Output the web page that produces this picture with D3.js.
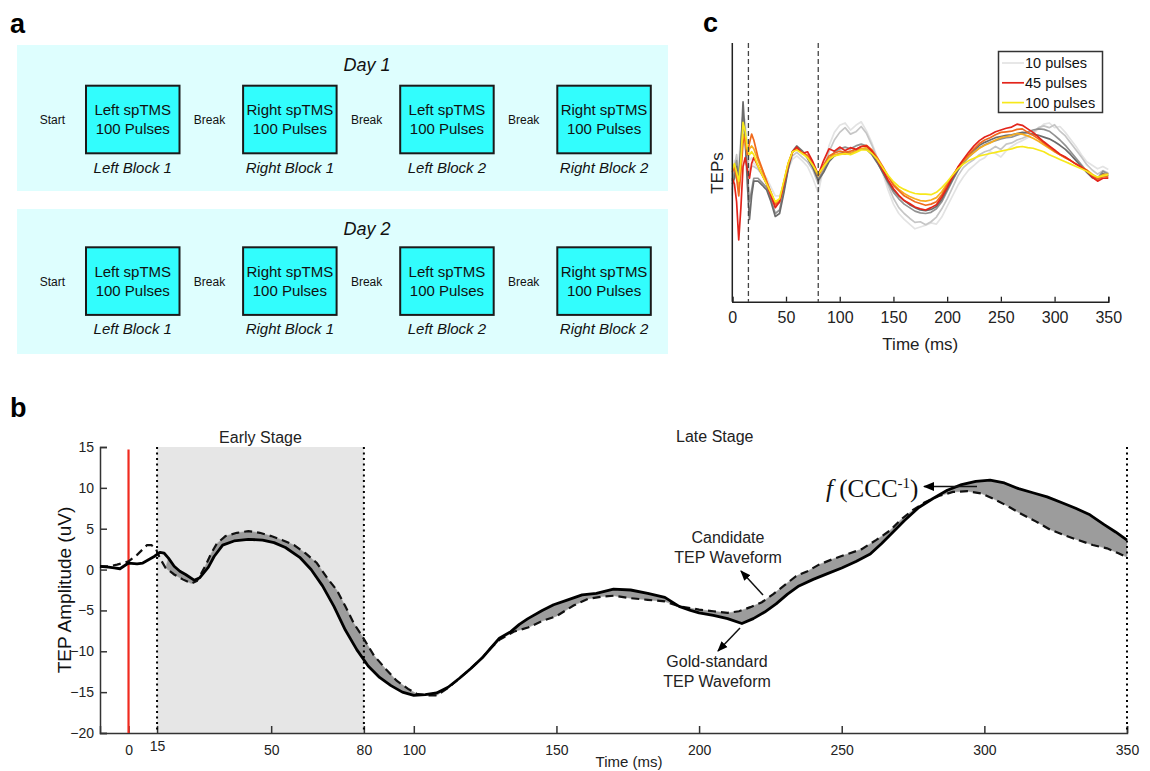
<!DOCTYPE html>
<html>
<head>
<meta charset="utf-8">
<script src="https://cdn.jsdelivr.net/npm/d3@7"></script>
<style>
  html, body { margin: 0; padding: 0; background: #fff; }
  svg { display: block; }
  text { font-family: "Liberation Sans", Arial, sans-serif; }
</style>
</head>
<body>
<svg id="fig" width="1150" height="771"></svg>
<script>
// ---------------- Panel a data ----------------
const dayTitles = ["Day 1", "Day 2"];
const startBreakLabels = ["Start", "Break", "Break", "Break"];
const boxLine1 = ["Left spTMS", "Right spTMS", "Left spTMS", "Right spTMS"];
const boxLine2 = ["100 Pulses", "100 Pulses", "100 Pulses", "100 Pulses"];
const blockLabels = ["Left Block 1", "Right Block 1", "Left Block 2", "Right Block 2"];

// ---------------- Panel b data ----------------
const goldT = [-10,-7,-5,-3,0,3,5,7,9,11,12.5,14,16,18,20,23,25,28,30,33,37,42,47,51,55,60,64,68,72,76,80,84,88,92,96,100,104,108,112,116,120,124,127,130,134,137,140,145,149,154,159,164,170,176,182,188,193,197,200,205,210,215,219,223,227,231,235,240,245,250,255,260,264,268,272,277,282,287,292,297,302,307,312,317,322,327,332,337,342,346,350];
const goldV = [0.4,0.3,0.2,0.1,0.8,0.7,0.8,1.2,1.6,2.1,2.0,1.4,0.4,-0.2,-0.6,-1.3,-1.0,0.3,1.6,3.0,3.5,3.7,3.6,3.3,2.7,1.5,0.0,-2.0,-4.5,-7.4,-9.8,-11.8,-13.2,-14.2,-15.0,-15.4,-15.3,-15.1,-14.4,-13.3,-12.1,-10.8,-9.6,-8.4,-7.6,-6.7,-6.0,-5.0,-4.3,-3.7,-3.1,-2.9,-2.4,-2.5,-2.9,-3.4,-4.5,-5.0,-5.3,-5.6,-6.0,-6.6,-6.0,-5.2,-4.2,-3.0,-2.0,-1.2,-0.5,0.2,1.0,1.9,3.2,4.6,6.0,7.6,8.7,9.7,10.4,10.8,10.95,10.6,9.9,9.4,8.9,8.2,7.5,6.7,5.5,4.6,3.6];
const candT = [-10,-7,-4,0,3,6.5,8,9.5,11,13,16,19,22,24,27,29,31,34,38,42,46,50,54,58,62,66,70,73,76,79,82,86,90,94,98,101,105,108,112,116,120,124,127,130,135,140,145,150,156,161,166,170,176,182,188,193,200,205,210,214,218,222,226,230,234,238,242,247,252,257,262,267,271,275,279,284,289,294,299,303,308,313,318,323,328,333,338,343,347,350];
const candV = [0.4,0.4,0.6,1.0,1.8,3.0,3.0,2.6,1.4,0.2,-0.6,-1.2,-1.7,-1.4,0.5,2.0,3.2,4.1,4.5,4.7,4.5,4.1,3.6,3.0,2.0,0.8,-1.2,-2.5,-4.5,-6.6,-8.2,-10.5,-12.1,-13.6,-14.6,-15.2,-15.4,-15.4,-14.5,-13.3,-12.1,-10.8,-9.6,-8.6,-7.6,-7.1,-6.3,-5.7,-4.4,-3.6,-3.3,-3.2,-3.5,-3.7,-3.9,-4.5,-4.9,-5.1,-5.3,-5.1,-4.6,-4.0,-3.0,-1.9,-0.8,-0.2,0.6,1.3,1.9,2.5,3.6,4.8,6.2,7.3,8.2,9.0,9.5,9.6,9.3,8.7,7.8,6.8,5.9,4.9,4.2,3.6,3.0,2.6,2.0,1.5];
// tick positions as drawn in the figure (the 15 / 80 markers sit at these axis positions)
const bXTickPos = [0,10,50,82.5,100,150,200,250,300,350];
const bXTickLabels = ["0","15","50","80","100","150","200","250","300","350"];
const bYTicks = [-20,-15,-10,-5,0,5,10,15];
const stageLinePos = [10, 82.5, 350];
const pulseOnset = 0;

// ---------------- Panel c data ----------------
const tepT = [0,2,4,6,8,10,12,14,16,18,20,24,28,32,36,40,44,48,52,56,60,65,70,75,80,85,90,95,100,105,110,115,120,125,130,135,140,145,150,155,160,165,170,175,180,185,190,195,200,205,210,215,220,225,230,235,240,245,250,255,260,265,270,275,280,285,290,295,300,305,310,315,320,325,330,335,340,345,350];
const pulses10 = [-4,2,-1,2,6,7,9,5,2,2.5,1.5,0.8,0,-1,-2.5,-4,-4,-2,0.5,2.2,2.8,2.0,1.0,-1.0,-3.5,0.8,4.5,6.8,8.0,8.4,7.2,8.0,8.6,7.0,5.0,2.5,-0.2,-3.0,-5.4,-7.0,-8.0,-8.8,-9.6,-9.3,-9.0,-8.6,-8.8,-7.6,-5.8,-4.0,-2.2,-0.8,0.4,1.2,2.0,2.5,3.5,3.2,2.6,3.7,4.4,5.0,5.4,5.9,6.5,7.4,8.2,8.4,7.6,7.8,6.8,5.6,4.4,3.0,1.8,1.2,0.6,1.0,0.5];
const pulses20 = [-3,1,3,0,3,9,7,3,0,1,1,0.5,-0.5,-1.8,-3.5,-5.5,-5.2,-2.5,0.6,2.8,3.4,2.6,1.8,0.4,-2.0,0.5,3.5,5.5,6.8,7.6,6.5,6.9,7.8,6.6,4.6,2.3,0.2,-2.2,-4.4,-6.0,-7.0,-7.8,-8.5,-8.4,-8.9,-8.4,-7.6,-6.2,-4.5,-2.6,-0.6,0.8,1.6,2.2,3.0,3.5,3.8,4.4,3.9,4.8,5.0,5.5,5.8,6.2,6.8,7.6,7.9,7.6,8.1,7.0,6.2,5.0,3.8,2.6,1.3,0.4,-0.3,0.3,-0.1];
const pulses35 = [-1.5,0,2,-1,5,10,5,0,-5,-3,-1,-1,-1.8,-2.6,-4.6,-7,-6.4,-3,0.8,3.6,4.5,3.7,2.6,1.0,-1.1,0.3,2.2,3.4,4.0,4.3,4.0,4.5,4.8,4.5,3.4,1.8,0.0,-1.8,-3.4,-4.5,-5.4,-6.0,-6.6,-6.9,-7.0,-6.8,-6.2,-5.0,-3.2,-1.4,0.3,1.6,2.6,3.4,4.2,4.7,5.1,5.4,5.7,5.9,6.0,6.3,6.6,6.9,7.2,7.4,7.3,7.0,6.3,5.5,4.6,3.5,2.4,1.3,0.2,-0.8,-1.0,0.2,-0.3];
const pulses40 = [-2,-1,1,-2,4,12,6,-2,-8,-4,-1.5,-1.5,-2.2,-3,-5,-7.5,-7,-3.5,0.5,3.5,4.4,3.6,2.4,0.8,-1.4,0.0,1.8,2.8,3.2,3.4,3.3,3.6,4.0,3.9,3.0,1.6,0.0,-1.6,-3.0,-4.0,-4.8,-5.5,-6.0,-6.4,-6.5,-6.3,-5.8,-4.6,-2.9,-1.2,0.4,1.7,2.8,3.8,4.6,5.1,5.5,5.9,6.1,6.3,6.4,6.6,6.8,6.7,6.5,6.3,6.0,5.7,5.2,4.6,3.9,3.0,2.0,1.0,0.0,-0.9,-1.2,-0.2,-0.6];
const pulses45 = [-1,-2,-5,-11.5,-6,1,2.5,0.5,-1,1.5,2.5,1,-0.5,-2,-4,-6,-5,-2,1.2,3.5,4.3,3.2,3.5,1.8,-0.4,2.0,4.0,3.6,4.3,3.7,4.2,3.9,4.4,4.5,3.6,2.1,0.4,-1.3,-2.8,-3.9,-4.8,-5.3,-5.9,-6.2,-6.4,-6.0,-5.5,-4.2,-2.6,-0.8,0.9,2.2,3.4,4.5,5.4,6.0,6.4,6.9,7.2,7.5,7.7,8.2,8.0,7.4,6.8,6.0,5.2,4.5,3.8,3.1,2.6,2.0,1.4,0.9,0.3,-0.8,-1.5,-1.0,-1.0];
const pulses60 = [0,1,-1,-4,0,5,6,3,5,6.5,5.5,2.5,0.5,-1.5,-3.5,-5.5,-5,-1.8,1.4,3.4,4.1,3.4,2.9,1.5,-0.4,1.2,2.8,3.3,3.6,3.4,3.6,3.9,4.4,4.6,3.8,2.5,1.0,-0.6,-2.2,-3.1,-4.0,-4.5,-5.0,-5.3,-5.6,-5.4,-5.0,-3.8,-2.2,-0.7,0.8,2.0,3.0,4.0,4.9,5.5,5.9,6.4,6.8,6.9,7.0,7.3,7.4,6.8,6.3,5.7,5.0,4.3,3.6,3.0,2.5,2.0,1.4,0.8,0.3,-0.5,-1.2,-0.7,-0.8];
const pulses80 = [0.3,1,0,-2.5,1,6.5,5,3,4,4.5,4,2,0.3,-1.6,-3.4,-5.2,-4.7,-1.6,1.6,3.5,4.0,3.3,2.6,1.3,-0.6,0.9,2.4,3.0,3.2,3.1,3.3,3.6,4.0,4.2,3.5,2.2,0.8,-0.7,-2.0,-2.9,-3.6,-4.1,-4.5,-4.8,-4.9,-4.7,-4.3,-3.3,-1.9,-0.5,0.8,1.8,2.7,3.4,4.1,4.6,5.0,5.5,5.9,6.1,6.3,6.6,6.5,6.2,5.8,5.3,4.7,4.1,3.5,3.0,2.5,2.0,1.4,0.9,0.4,-0.3,-0.9,-0.4,-0.3];
const pulses100 = [0.5,1.5,0,-1.5,2,8.5,7,4,3,3.5,3,1,-0.5,-2,-3.5,-5,-4.5,-1.5,1.5,3.5,3.8,3.2,2.5,1.2,-0.3,1.0,2.2,2.8,3.0,3.2,3.0,3.4,3.8,3.8,3.2,2.2,0.8,-0.5,-1.6,-2.4,-2.9,-3.3,-3.6,-3.7,-3.7,-3.8,-3.4,-2.6,-1.6,-0.5,0.6,1.4,2.0,2.4,2.8,3.0,3.2,3.4,3.6,3.8,4.0,4.3,4.4,4.2,4.1,3.8,3.5,3.0,2.6,2.2,1.8,1.4,1.0,0.6,0.2,-0.4,-0.8,-0.6,-0.4];
const cXTicks = [0,50,100,150,200,250,300,350];
const cMarkers = [15, 80];
const legendLabels = ["10 pulses", "45 pulses", "100 pulses"];

// =====================================================
const svg = d3.select("#fig");
const defs = svg.append("defs");
defs.append("marker").attr("id", "arr").attr("viewBox", "0 0 10 10")
  .attr("refX", 9).attr("refY", 5).attr("markerWidth", 7).attr("markerHeight", 7)
  .attr("orient", "auto-start-reverse")
  .append("path").attr("d", "M0,1 L10,5 L0,9 Z").attr("fill", "#000");

// panel letters
const letter = (x, y, t) => svg.append("text").attr("x", x).attr("y", y).text(t)
  .attr("font-size", 27).attr("font-weight", "bold").attr("fill", "#000");
letter(10, 33, "a");
letter(10, 417, "b");
letter(703, 32, "c");

// ---------------- Panel a ----------------
const dayTop = [45, 209], dayH = [146, 145], boxTop = [85.7, 247.3];
const boxX = d3.scalePoint().domain(d3.range(4)).range([86, 557.3]);
const boxW = 93.5, boxH = 67.6;
dayTitles.forEach((title, d) => {
  const g = svg.append("g");
  g.append("rect").attr("x", 17).attr("y", dayTop[d]).attr("width", 651).attr("height", dayH[d])
    .attr("fill", "#defefe");
  g.append("text").attr("x", 367).attr("y", dayTop[d] + 26).attr("text-anchor", "middle")
    .attr("font-size", 18).attr("font-style", "italic").attr("fill", "#111").text(title);
  const cells = g.selectAll("g.cell").data(d3.range(4)).join("g").attr("class", "cell");
  cells.append("rect").attr("x", i => boxX(i)).attr("y", boxTop[d]).attr("width", boxW).attr("height", boxH)
    .attr("fill", "#32fdfd").attr("stroke", "#1a1a1a").attr("stroke-width", 2);
  cells.append("text").attr("x", i => boxX(i) + boxW / 2).attr("y", boxTop[d] + 29.5)
    .attr("text-anchor", "middle").attr("font-size", 15).attr("fill", "#111").text(i => boxLine1[i]);
  cells.append("text").attr("x", i => boxX(i) + boxW / 2).attr("y", boxTop[d] + 48.5)
    .attr("text-anchor", "middle").attr("font-size", 15).attr("fill", "#111").text(i => boxLine2[i]);
  cells.append("text").attr("x", i => boxX(i) + boxW / 2).attr("y", boxTop[d] + boxH + 19.5)
    .attr("text-anchor", "middle").attr("font-size", 15).attr("font-style", "italic").attr("fill", "#111").text(i => blockLabels[i]);
  cells.append("text").attr("x", i => boxX(i) - 33.6).attr("y", boxTop[d] + 38.6)
    .attr("text-anchor", "middle").attr("font-size", 12).attr("fill", "#111").text(i => startBreakLabels[i]);
});

// ---------------- Panel b ----------------
const xB = d3.scaleLinear().domain([-10, 350]).range([100, 1127]);
const yB = d3.scaleLinear().domain([-20, 15]).range([733, 447]);
const gB = svg.append("g");

// early stage shading
gB.append("rect").attr("x", xB(stageLinePos[0])).attr("y", yB(15))
  .attr("width", xB(stageLinePos[1]) - xB(stageLinePos[0])).attr("height", yB(-20) - yB(15))
  .attr("fill", "#e6e6e6");

// fill between waveforms
const goldPts = goldT.map((t, i) => [t, goldV[i]]);
const candPts = candT.map((t, i) => [t, candV[i]]);
const lineB = d3.line().x(d => xB(d[0])).y(d => yB(d[1]));
const poly = goldPts.filter(d => d[0] >= 14).concat(candPts.filter(d => d[0] >= 13).reverse());
gB.append("path").attr("d", lineB(poly) + "Z").attr("fill", "#9c9c9c").attr("stroke", "#a8a8a8").attr("stroke-width", 0.6);

// axes
const axB = d3.axisBottom(xB).tickValues(bXTickPos).tickSize(-7).tickPadding(12)
  .tickFormat((d, i) => bXTickLabels[i]);
const gx = gB.append("g").attr("transform", `translate(0,${yB(-20)})`).call(axB);
const ayB = d3.axisLeft(yB).tickValues(bYTicks).tickSize(-7).tickPadding(6);
const gy = gB.append("g").attr("transform", `translate(${xB(-10)},0)`).call(ayB);
[gx, gy].forEach(g => {
  g.select(".domain").attr("stroke", "#333").attr("stroke-width", 1.5);
  g.selectAll(".tick line").attr("stroke", "#333").attr("stroke-width", 1.5);
  g.selectAll(".tick text").attr("font-size", 14).attr("fill", "#222")
    .attr("font-family", "Liberation Sans, Arial, sans-serif");
});
gx.selectAll(".tick").filter((d, i) => i === 1).select("text").attr("dy", "0.4em");

// stage boundaries (dotted)
gB.selectAll("line.stage").data(stageLinePos).join("line").attr("class", "stage")
  .attr("x1", d => xB(d)).attr("x2", d => xB(d)).attr("y1", yB(15)).attr("y2", yB(-20))
  .attr("stroke", "#000").attr("stroke-width", 2).attr("stroke-dasharray", "2,3.5");
// TMS onset
gB.append("line").attr("x1", xB(pulseOnset)).attr("x2", xB(pulseOnset)).attr("y1", yB(14.7)).attr("y2", yB(-20))
  .attr("stroke", "#f02a1f").attr("stroke-width", 2.2);

// waveforms
gB.append("path").attr("d", lineB(candPts)).attr("fill", "none").attr("stroke", "#111")
  .attr("stroke-width", 2.2).attr("stroke-dasharray", "8,5");
gB.append("path").attr("d", lineB(goldPts)).attr("fill", "none").attr("stroke", "#000")
  .attr("stroke-width", 2.8).attr("stroke-linejoin", "round");

// labels
gB.append("text").attr("x", (xB(stageLinePos[0]) + xB(stageLinePos[1])) / 2).attr("y", 443).attr("text-anchor", "middle")
  .attr("font-size", 16).attr("fill", "#222").text("Early Stage");
gB.append("text").attr("x", xB(205.5)).attr("y", 442).attr("text-anchor", "middle")
  .attr("font-size", 16).attr("fill", "#222").text("Late Stage");
gB.append("text").attr("x", 629).attr("y", 767).attr("text-anchor", "middle")
  .attr("font-size", 15).attr("fill", "#222").text("Time (ms)");
gB.append("text").attr("transform", "translate(71,590) rotate(-90)").attr("text-anchor", "middle")
  .attr("font-size", 19).attr("fill", "#111").text("TEP Amplitude (uV)");

// annotations
const ann = (x, y, lines) => lines.forEach((t, i) =>
  gB.append("text").attr("x", x).attr("y", y + i * 20).attr("text-anchor", "middle")
    .attr("font-size", 16).attr("fill", "#222").text(t));
ann(728, 543, ["Candidate", "TEP Waveform"]);
ann(717, 667, ["Gold-standard", "TEP Waveform"]);
gB.append("line").attr("x1", 763).attr("y1", 595).attr("x2", 741).attr("y2", 571)
  .attr("stroke", "#111").attr("stroke-width", 1.5).attr("marker-end", "url(#arr)");
gB.append("line").attr("x1", 740).attr("y1", 628).attr("x2", 718).attr("y2", 651)
  .attr("stroke", "#111").attr("stroke-width", 1.5).attr("marker-end", "url(#arr)");
gB.append("line").attr("x1", 977).attr("y1", 486.5).attr("x2", 924).attr("y2", 486.5)
  .attr("stroke", "#111").attr("stroke-width", 1.6).attr("marker-end", "url(#arr)");
const ft = gB.append("text").attr("x", 826).attr("y", 497).attr("font-size", 25).attr("fill", "#111")
  .style("font-family", "'Liberation Serif', 'Times New Roman', serif");
ft.append("tspan").attr("font-style", "italic").text("f");
ft.append("tspan").text(" (CCC");
ft.append("tspan").attr("dy", -9).attr("font-size", 15).text("-1");
ft.append("tspan").attr("dy", 9).text(")");

// ---------------- Panel c ----------------
const xC = d3.scaleLinear().domain([0, 350]).range([732.3, 1108.3]);
const yC = d3.scaleLinear().domain([-22, 22]).range([301.7, 43]);
const gC = svg.append("g");
const cSeries = [
  { v: pulses10, c: "#e3e3e3" },
  { v: pulses20, c: "#c6c6c6" },
  { v: pulses35, c: "#929292" },
  { v: pulses40, c: "#6b6b6b" },
  { v: pulses80, c: "#f7ad1f" },
  { v: pulses60, c: "#f06a1d" },
  { v: pulses45, c: "#e3241b" },
  { v: pulses100, c: "#f7e81b" }
];
const lineC = d3.line().x(d => xC(d[0])).y(d => yC(d[1]));
gC.selectAll("path.tep").data(cSeries).join("path").attr("class", "tep")
  .attr("d", s => lineC(tepT.map((t, i) => [t, s.v[i]]).filter(d => d[1] !== undefined)))
  .attr("fill", "none").attr("stroke", s => s.c).attr("stroke-width", 1.7).attr("stroke-linejoin", "round");

gC.selectAll("line.mk").data(cMarkers).join("line").attr("class", "mk")
  .attr("x1", d => xC(d)).attr("x2", d => xC(d)).attr("y1", yC(22)).attr("y2", yC(-22))
  .attr("stroke", "#444").attr("stroke-width", 1.3).attr("stroke-dasharray", "5,3");

const axC = d3.axisBottom(xC).tickValues(cXTicks).tickSize(-5).tickPadding(10).tickFormat(d3.format("d"));
const gxc = gC.append("g").attr("transform", `translate(0,${yC(-22)})`).call(axC);
gxc.select(".domain").attr("stroke", "#222").attr("stroke-width", 1.5);
gxc.selectAll(".tick line").attr("stroke", "#222").attr("stroke-width", 1.3);
gxc.selectAll(".tick text").attr("font-size", 16).attr("fill", "#222")
  .attr("font-family", "Liberation Sans, Arial, sans-serif");
gC.append("line").attr("x1", xC(0)).attr("x2", xC(0)).attr("y1", yC(22)).attr("y2", yC(-22))
  .attr("stroke", "#222").attr("stroke-width", 1.5);
gC.append("text").attr("x", xC(175)).attr("y", 350).attr("text-anchor", "middle")
  .attr("font-size", 17).attr("fill", "#222").text("Time (ms)");
gC.append("text").attr("transform", "translate(723,173) rotate(-90)").attr("text-anchor", "middle")
  .attr("font-size", 17).attr("fill", "#222").text("TEPs");

// legend
const legColors = [cSeries[0].c, cSeries[6].c, cSeries[7].c];
const lg = gC.append("g");
lg.append("rect").attr("x", 998.5).attr("y", 51.5).attr("width", 104).attr("height", 61)
  .attr("fill", "#fff").attr("stroke", "#333").attr("stroke-width", 1.5);
legendLabels.forEach((l, i) => {
  const y = 63 + i * 19.8;
  lg.append("line").attr("x1", 1002).attr("x2", 1024).attr("y1", y).attr("y2", y)
    .attr("stroke", legColors[i]).attr("stroke-width", 1.7);
  lg.append("text").attr("x", 1025).attr("y", y + 5).attr("font-size", 14.5).attr("fill", "#111").text(l);
});
</script>
</body>
</html>
